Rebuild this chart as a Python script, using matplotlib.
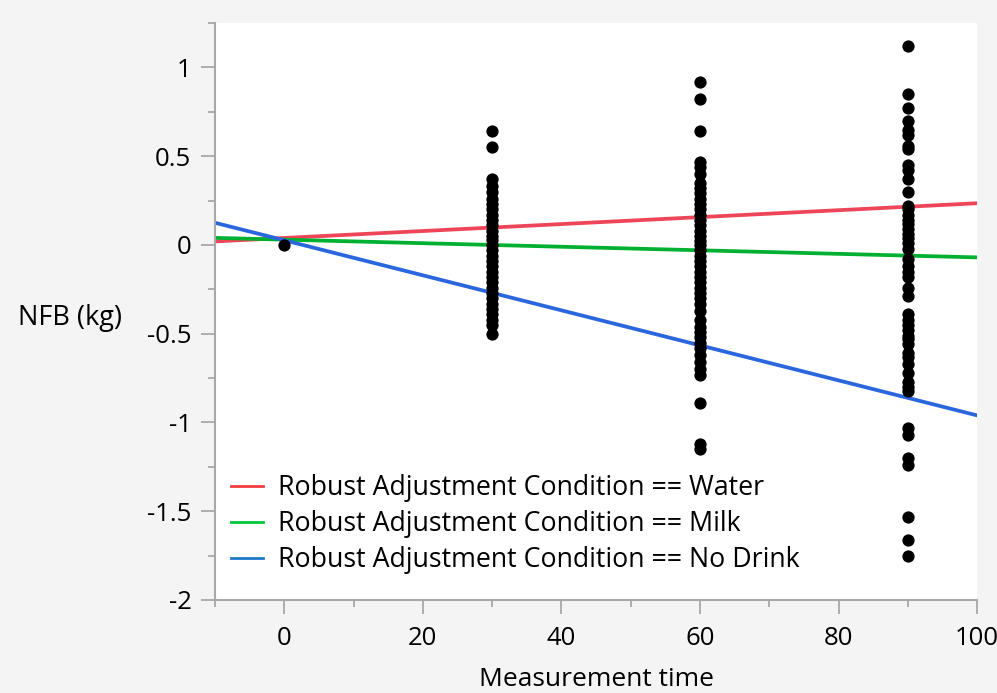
import numpy as np
import matplotlib
matplotlib.use("Agg")
from matplotlib import pyplot as plt
from matplotlib.lines import Line2D
from matplotlib.ticker import MultipleLocator, FormatStrFormatter

plt.rcParams['font.family'] = ['Open Sans', 'DejaVu Sans']
plt.rcParams['axes.unicode_minus'] = False

t0_vals = [0.0]
t30_vals = [0.64, 0.55, 0.37, 0.33, 0.30, 0.26, 0.23, 0.20, 0.17, 0.14, 0.11,
            0.08, 0.05, 0.03, 0.0, -0.03, -0.06, -0.09, -0.12, -0.15, -0.18,
            -0.21, -0.24, -0.27, -0.30, -0.33, -0.36, -0.39, -0.42, -0.45, -0.50]
t60_vals = [0.92, 0.82, 0.64, 0.47, 0.44, 0.40, 0.35, 0.32, 0.29, 0.26, 0.23,
            0.20, 0.17, 0.14, 0.11, 0.08, 0.05, 0.02, 0.0, -0.03, -0.06, -0.09,
            -0.12, -0.15, -0.18, -0.21, -0.24, -0.27, -0.30, -0.33, -0.37,
            -0.42, -0.46, -0.49, -0.52, -0.55, -0.58, -0.62, -0.66, -0.70,
            -0.73, -0.89, -1.12, -1.15]
t90_vals = [1.12, 0.85, 0.77, 0.70, 0.65, 0.62, 0.56, 0.54, 0.45, 0.42, 0.37,
            0.30, 0.22, 0.20, 0.17, 0.14, 0.12, 0.09, 0.06, 0.04, 0.01, -0.02,
            -0.08, -0.12, -0.15, -0.18, -0.24, -0.29, -0.39, -0.42, -0.45,
            -0.48, -0.51, -0.53, -0.56, -0.61, -0.63, -0.67, -0.72, -0.77,
            -0.80, -0.82, -1.03, -1.07, -1.20, -1.24, -1.53, -1.66, -1.75]

# fitted lines: value at x=-10 and x=100
line_x = [-10, 100]
conditions = ['Water', 'Milk', 'No Drink']
line_y = {'Water': [0.02, 0.235], 'Milk': [0.04, -0.07], 'No Drink': [0.125, -0.96]}
line_colors = {'Water': '#ee4559', 'Milk': '#00b030', 'No Drink': '#2a66dd'}
legend_colors = {'Water': '#f03c3c', 'Milk': '#00c83c', 'No Drink': '#1f78c8'}

fig = plt.figure(figsize=(9.97, 6.93), dpi=100)
fig.patch.set_facecolor('#f4f4f4')
ax = fig.add_axes([0.2157, 0.1342, 0.7643, 0.8325])
ax.set_facecolor('white')

for c in conditions:
    ax.plot(line_x, line_y[c], color=line_colors[c], lw=2.7, zorder=2)

xs = ([0] * len(t0_vals) + [30] * len(t30_vals) + [60] * len(t60_vals)
      + [90] * len(t90_vals))
ys = t0_vals + t30_vals + t60_vals + t90_vals
ax.scatter(xs, ys, s=78, color='black', zorder=3, linewidths=0)

ax.set_xlim(-10, 100)
ax.set_ylim(-2, 1.25)
ax.xaxis.set_major_locator(MultipleLocator(20))
ax.xaxis.set_minor_locator(MultipleLocator(10))
ax.yaxis.set_major_locator(MultipleLocator(0.5))
ax.yaxis.set_minor_locator(MultipleLocator(0.25))
ax.yaxis.set_major_formatter(FormatStrFormatter('%g'))

for s in ['top', 'right']:
    ax.spines[s].set_visible(False)
for s in ['left', 'bottom']:
    ax.spines[s].set_color('#a8a8a8')
    ax.spines[s].set_linewidth(1.5)
ax.tick_params(which='major', length=10, width=1.3, color='#a8a8a8',
               labelsize=18.5, pad=7)
ax.tick_params(which='minor', length=5, width=1.3, color='#a8a8a8')
ax.tick_params(axis='x', which='major', pad=9)

ax.set_xlabel('Measurement time', fontsize=19, labelpad=11)
fig.text(18 / 997, 1 - 318 / 693, 'NFB (kg)', fontsize=19.5, ha='left', va='center')

handles = [Line2D([], [], color=legend_colors[c], lw=2) for c in conditions]
labels = ['Robust Adjustment Condition == ' + c for c in conditions]
ax.legend(handles, labels, loc='lower left', bbox_to_anchor=(-0.004, 0.012),
          frameon=False, fontsize=19.3, handlelength=1.2, handletextpad=0.55,
          labelspacing=0.3, borderaxespad=0.3)

plt.savefig('out.png', dpi=100, facecolor=fig.get_facecolor())
